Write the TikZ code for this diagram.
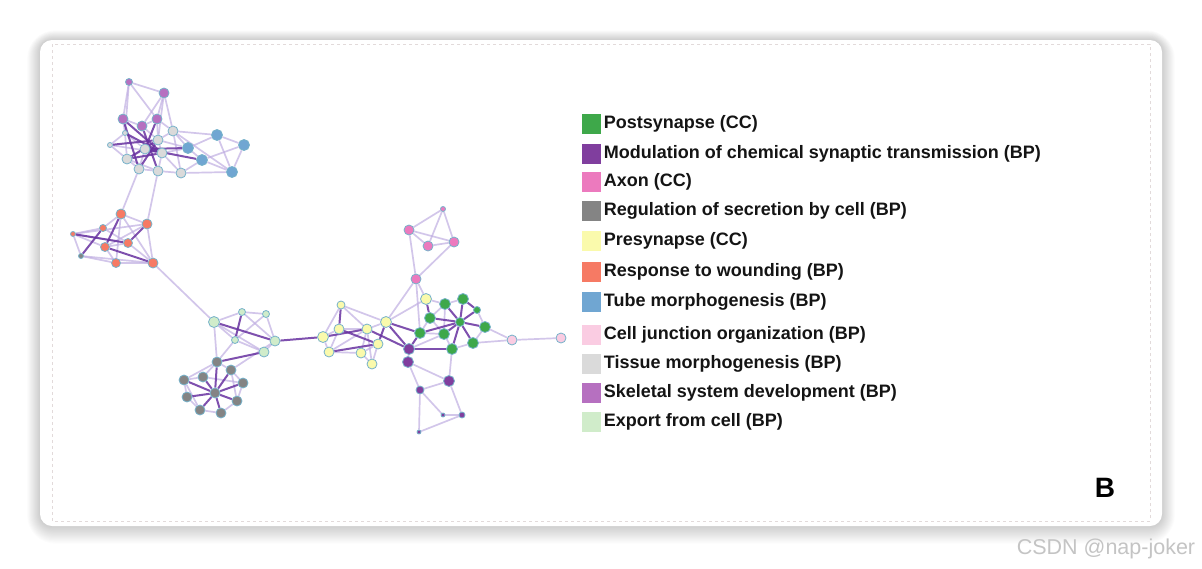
\documentclass[tikz,border=0pt]{standalone}
\usepackage{fontspec}
\setsansfont{Liberation Sans}
\usetikzlibrary{positioning, backgrounds}
\pgfdeclarelayer{card}
\pgfdeclarelayer{links}
\pgfsetlayers{card,links,main}

\definecolor{cPost}{RGB}{62,168,74}
\definecolor{cModul}{RGB}{128,62,158}
\definecolor{cAxon}{RGB}{236,122,190}
\definecolor{cSecret}{RGB}{132,132,132}
\definecolor{cPresyn}{RGB}{250,250,172}
\definecolor{cWound}{RGB}{246,122,100}
\definecolor{cTube}{RGB}{112,166,210}
\definecolor{cJunc}{RGB}{250,204,226}
\definecolor{cTissue}{RGB}{218,218,218}
\definecolor{cSkel}{RGB}{182,112,192}
\definecolor{cExport}{RGB}{208,236,202}
\definecolor{cRing}{RGB}{118,178,202}
\definecolor{cSoft}{RGB}{192,174,226}
\definecolor{cHard}{RGB}{104,50,160}
\definecolor{cDash}{RGB}{226,218,218}
\definecolor{cMark}{RGB}{196,196,196}

\tikzset{
  gene/.style={circle, draw=cRing, line width=0.8pt, inner sep=0pt, minimum size=10pt},
  gbig/.style={minimum size=11pt},
  gsmall/.style={minimum size=7pt},
  gtiny/.style={minimum size=5pt},
  post/.style={gene, fill=cPost},
  modul/.style={gene, fill=cModul},
  axon/.style={gene, fill=cAxon},
  secret/.style={gene, fill=cSecret},
  presyn/.style={gene, fill=cPresyn},
  wound/.style={gene, fill=cWound},
  tube/.style={gene, fill=cTube},
  junc/.style={gene, fill=cJunc},
  tissue/.style={gene, fill=cTissue},
  skel/.style={gene, fill=cSkel},
  export/.style={gene, fill=cExport},
  soft/.style={draw=cSoft, line width=1.7pt, opacity=0.7},
  hard/.style={draw=cHard, line width=2pt, opacity=0.85},
  swatch/.style={rectangle, minimum width=19pt, minimum height=20pt, inner sep=0pt},
  lab/.style={anchor=west, inner sep=0pt, text=black!92,
              font=\sffamily\bfseries\fontsize{18}{20}\selectfont},
}

\begin{document}
\begin{tikzpicture}[x=1pt, y=-1pt]
  \useasboundingbox (0,0) rectangle (1202,568);

  % card with soft shadow
  \begin{pgfonlayer}{card}
    \fill[white] (0,0) rectangle (1202,568);
    \foreach \s in {1,...,16}
      \fill[black, opacity=0.011, rounded corners=12+\s]
        (40-\s*0.8, 40-\s*0.6) rectangle (1162+\s*0.8, 526+\s*1.1);
    \fill[white, rounded corners=12] (40,40) rectangle (1162,526);
    \draw[cDash, dashed, line width=0.8pt] (52,44) rectangle (1150,521);
  \end{pgfonlayer}

  % skeletal system development + tissue + tube
  \node[skel, gsmall] (sk1) at (129,82) {};
  \node[skel] (sk2) at (164,93) {};
  \node[skel] (sk3) at (123,119) {};
  \node[skel] (sk4) at (142,126) {};
  \node[skel] (sk5) at (157,119) {};
  \node[tissue] (ti1) at (173,131) {};
  \node[tissue, gtiny] (ti2) at (125,133) {};
  \node[tissue, gtiny] (ti3) at (110,145) {};
  \node[tissue] (ti4) at (158,140) {};
  \node[tissue] (ti5) at (145,149) {};
  \node[tissue] (ti6) at (162,153) {};
  \node[tissue] (ti7) at (127,159) {};
  \node[tissue] (ti8) at (139,169) {};
  \node[tissue] (ti9) at (158,171) {};
  \node[tissue] (ti10) at (181,173) {};
  \node[tube, gbig] (tu1) at (188,148) {};
  \node[tube, gbig] (tu2) at (217,135) {};
  \node[tube, gbig] (tu3) at (244,145) {};
  \node[tube, gbig] (tu4) at (202,160) {};
  \node[tube, gbig] (tu5) at (232,172) {};

  % response to wounding
  \node[wound] (rw1) at (121,214) {};
  \node[wound] (rw2) at (147,224) {};
  \node[wound, gsmall] (rw3) at (103,228) {};
  \node[wound, gtiny] (rw4) at (73,234) {};
  \node[wound, minimum size=9pt] (rw5) at (105,247) {};
  \node[wound, minimum size=9pt] (rw6) at (128,243) {};
  \node[secret, gtiny] (rw7) at (81,256) {};
  \node[wound, minimum size=9pt] (rw8) at (116,263) {};
  \node[wound] (rw9) at (153,263) {};

  % export from cell + regulation of secretion
  \node[export, gbig] (ex1) at (214,322) {};
  \node[export, gsmall] (ex2) at (242,312) {};
  \node[export, gsmall] (ex3) at (266,314) {};
  \node[export, gsmall] (ex4) at (235,340) {};
  \node[export] (ex5) at (275,341) {};
  \node[export] (ex6) at (264,352) {};
  \node[secret] (se1) at (217,362) {};
  \node[secret] (se2) at (231,370) {};
  \node[secret] (se3) at (203,377) {};
  \node[secret] (se4) at (184,380) {};
  \node[secret] (se5) at (243,383) {};
  \node[secret] (se6) at (215,393) {};
  \node[secret] (se7) at (187,397) {};
  \node[secret] (se8) at (237,401) {};
  \node[secret] (se9) at (200,410) {};
  \node[secret] (se10) at (221,413) {};

  % axon
  \node[axon, gtiny] (ax1) at (443,209) {};
  \node[axon] (ax2) at (409,230) {};
  \node[axon] (ax3) at (428,246) {};
  \node[axon] (ax4) at (454,242) {};
  \node[axon] (ax5) at (416,279) {};

  % presynapse
  \node[presyn, gbig] (pr1) at (426,299) {};
  \node[presyn, minimum size=8pt] (pr2) at (341,305) {};
  \node[presyn, gbig] (pr3) at (386,322) {};
  \node[presyn] (pr4) at (339,329) {};
  \node[presyn] (pr5) at (367,329) {};
  \node[presyn, gbig] (pr6) at (323,337) {};
  \node[presyn] (pr7) at (378,344) {};
  \node[presyn] (pr8) at (361,353) {};
  \node[presyn] (pr9) at (329,352) {};
  \node[presyn] (pr10) at (372,364) {};

  % postsynapse
  \node[post, gbig] (po1) at (445,304) {};
  \node[post, gbig] (po2) at (463,299) {};
  \node[post, gsmall] (po3) at (477,310) {};
  \node[post, gbig] (po4) at (430,318) {};
  \node[post, minimum size=9pt] (po5) at (460,322) {};
  \node[post, gbig] (po6) at (485,327) {};
  \node[post, gbig] (po7) at (420,333) {};
  \node[post, gbig] (po8) at (444,334) {};
  \node[post, gbig] (po9) at (473,343) {};
  \node[post, gbig] (po10) at (452,349) {};

  % modulation of chemical synaptic transmission
  \node[modul, gbig] (mo1) at (409,349) {};
  \node[modul, gbig] (mo2) at (408,362) {};
  \node[modul, gbig] (mo3) at (449,381) {};
  \node[modul, minimum size=8pt] (mo4) at (420,390) {};
  \node[modul, minimum size=4pt] (mo5) at (443,415) {};
  \node[modul, minimum size=6pt] (mo6) at (462,415) {};
  \node[modul, minimum size=4pt] (mo7) at (419,432) {};

  % cell junction organization
  \node[junc] (cj1) at (512,340) {};
  \node[junc] (cj2) at (561,338) {};

  \begin{pgfonlayer}{links}
    \foreach \a/\b in {sk1/sk2, sk1/sk3, sk1/sk5, sk2/sk5, sk2/ti1, sk2/sk4,
        sk3/sk4, sk3/ti2, sk5/ti1, sk4/ti4, ti1/tu2, ti1/tu1, tu1/tu2, tu2/tu3,
        tu2/tu5, tu3/tu4, tu3/tu5, tu4/tu5, tu1/tu4, tu4/ti10, ti10/ti9, ti9/ti8,
        ti8/ti7, ti7/ti3, ti3/ti2, ti2/ti5, ti1/ti10, ti7/ti9, ti6/ti10, ti4/tu1,
        ti3/ti6, ti1/tu5, sk1/ti2, sk2/ti4, sk5/ti4, ti1/ti4, ti4/ti6, ti6/ti9,
        ti5/ti8, ti7/ti5, ti2/ti7, sk4/sk5, ti10/tu5, tu1/ti6,
        ti8/rw1, ti9/rw2,
        rw1/rw2, rw1/rw3, rw1/rw9, rw2/rw9, rw3/rw4, rw4/rw7, rw4/rw5, rw4/rw6,
        rw5/rw8, rw7/rw8, rw8/rw9, rw6/rw9, rw3/rw6, rw5/rw6, rw1/rw8, rw2/rw5,
        rw4/rw2, rw7/rw9,
        rw9/ex1,
        ex1/ex2, ex1/ex4, ex2/ex3, ex2/ex5, ex3/ex5, ex3/ex4, ex4/ex6, ex5/ex6,
        ex1/se1, ex5/se2, ex1/ex6, ex4/se1,
        se1/se2, se2/se5, se5/se8, se8/se10, se10/se9, se9/se7, se7/se4,
        se4/se3, se3/se1, se1/se4, se3/se5, se2/se8, se4/se9,
        pr2/pr6, pr4/pr6, pr6/pr9, pr4/pr9, pr3/pr1, pr5/pr8, pr7/pr10,
        pr8/pr10, pr7/pr8, pr9/pr5, pr2/pr3, pr3/ax5, pr1/po1, pr5/pr10,
        pr3/pr5, pr1/ax5, pr4/pr5, pr9/pr8, pr2/pr5,
        ax1/ax2, ax1/ax4, ax1/ax3, ax2/ax3, ax2/ax4, ax3/ax4, ax2/ax5, ax4/ax5,
        ax5/po7,
        po1/po4, po4/po7, po7/po8, po8/po10, po10/po9, po9/po6, po6/po3,
        po1/po2, po4/po8, po6/cj1, cj1/cj2, po8/mo1, po9/cj1, po1/po8,
        mo1/mo2, mo2/mo3, mo2/mo4, mo3/mo4, mo3/mo6, mo4/mo5, mo4/mo7,
        mo5/mo6, mo6/mo7, mo3/po10}
      \draw[soft] (\a) -- (\b);
    \foreach \a/\b in {sk3/ti6, sk4/ti9, sk5/ti5, ti2/ti6, ti3/ti4, ti5/tu1,
        ti4/ti8, ti5/tu4, ti7/ti6, sk3/ti8, ti4/ti7, ti5/ti6,
        rw1/rw5, rw3/rw7, rw6/rw2, rw5/rw9, rw4/rw6,
        ex1/ex5, ex2/ex4, ex6/se1, ex5/pr6,
        se6/se1, se6/se2, se6/se3, se6/se4, se6/se5, se6/se7, se6/se8,
        se6/se9, se6/se10,
        pr2/pr4, pr3/pr7, pr6/pr5, pr4/pr7, pr3/po7, pr5/mo1, pr3/mo1,
        pr1/po4, pr9/pr7,
        po5/po1, po5/po2, po5/po3, po5/po4, po5/po6, po5/po7, po5/po8,
        po5/po9, po5/po10, po2/po3, po7/mo1, mo1/po10}
      \draw[hard] (\a) -- (\b);
  \end{pgfonlayer}

  % legend
  \node[swatch, fill=cPost] (sw1) at (591,124) {};
  \node[lab, right=3pt of sw1] (lb1) {Postsynapse (CC)};
  \node[swatch, fill=cModul] (sw2) at (591,154) {};
  \node[lab, right=3pt of sw2] (lb2) {Modulation of chemical synaptic transmission (BP)};
  \node[swatch, fill=cAxon] (sw3) at (591,182) {};
  \node[lab, right=3pt of sw3] (lb3) {Axon (CC)};
  \node[swatch, fill=cSecret] (sw4) at (591,211) {};
  \node[lab, right=3pt of sw4] (lb4) {Regulation of secretion by cell (BP)};
  \node[swatch, fill=cPresyn] (sw5) at (591,241) {};
  \node[lab, right=3pt of sw5] (lb5) {Presynapse (CC)};
  \node[swatch, fill=cWound] (sw6) at (591,272) {};
  \node[lab, right=3pt of sw6] (lb6) {Response to wounding (BP)};
  \node[swatch, fill=cTube] (sw7) at (591,302) {};
  \node[lab, right=3pt of sw7] (lb7) {Tube morphogenesis (BP)};
  \node[swatch, fill=cJunc] (sw8) at (591,335) {};
  \node[lab, right=3pt of sw8] (lb8) {Cell junction organization (BP)};
  \node[swatch, fill=cTissue] (sw9) at (591,364) {};
  \node[lab, right=3pt of sw9] (lb9) {Tissue morphogenesis (BP)};
  \node[swatch, fill=cSkel] (sw10) at (591,393) {};
  \node[lab, right=3pt of sw10] (lb10) {Skeletal system development (BP)};
  \node[swatch, fill=cExport] (sw11) at (591,422) {};
  \node[lab, right=3pt of sw11] (lb11) {Export from cell (BP)};

  \node[font=\sffamily\bfseries\fontsize{28}{30}\selectfont] (panel) at (1105,488) {B};
  \node[font=\sffamily\fontsize{21.5}{23}\selectfont, text=cMark] (mark) at (1106,549) {CSDN @nap-joker};
\end{tikzpicture}
\end{document}
